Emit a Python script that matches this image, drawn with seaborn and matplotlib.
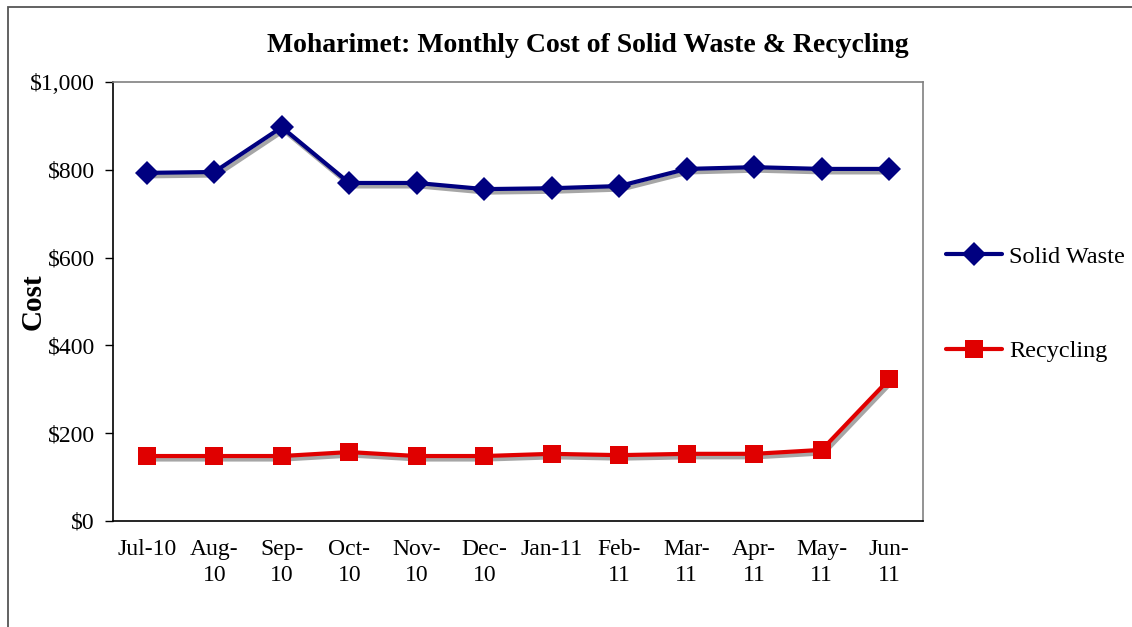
import pandas as pd
import matplotlib
matplotlib.use('Agg')
import matplotlib.pyplot as plt
import matplotlib.patheffects as pe
from matplotlib.lines import Line2D
from matplotlib.patches import Rectangle
from matplotlib.ticker import FuncFormatter, FixedLocator
import seaborn as sns

# Data
months = ['Jul-10', 'Aug-\n10', 'Sep-\n10', 'Oct-\n10', 'Nov-\n10', 'Dec-\n10',
          'Jan-11', 'Feb-\n11', 'Mar-\n11', 'Apr-\n11', 'May-\n11', 'Jun-\n11']
solid_waste = [793, 795, 897, 770, 770, 756, 758, 763, 802, 806, 802, 802]
recycling = [148, 148, 148, 157, 148, 148, 153, 150, 153, 153, 162, 323]

df = pd.DataFrame({
    'Month': list(range(len(months))) * 2,
    'Cost': solid_waste + recycling,
    'Series': ['Solid Waste'] * len(months) + ['Recycling'] * len(months),
})

sns.set_style('white')
plt.rcParams['font.family'] = ['Liberation Serif', 'DejaVu Serif']
plt.rcParams['text.color'] = 'black'
plt.rcParams['xtick.color'] = 'black'
plt.rcParams['ytick.color'] = 'black'

navy = '#000080'
red = '#E00000'

fig = plt.figure(figsize=(11.32, 6.27), dpi=100)
ax = fig.add_axes([113 / 1132, 1 - 521 / 627, (923 - 113) / 1132, (521 - 82) / 627])

sns.lineplot(data=df, x='Month', y='Cost', hue='Series', style='Series',
             palette={'Solid Waste': navy, 'Recycling': red},
             markers={'Solid Waste': 'D', 'Recycling': 's'},
             dashes=False, markersize=11, linewidth=3, markeredgewidth=0,
             legend=False, ax=ax)

shadow = [pe.SimpleLineShadow(offset=(1.5, -2.5), shadow_color='#909090', alpha=0.8),
          pe.Normal()]
for ln in ax.lines:
    ln.set_path_effects(shadow)
    ln.set_markersize(12 if ln.get_marker() == 'D' else 13)

ax.set_xlim(-0.5, len(months) - 0.5)
ax.set_ylim(0, 1000)
ax.set_yticks(range(0, 1001, 200))
ax.yaxis.set_major_formatter(FuncFormatter(lambda v, p: '${:,.0f}'.format(v)))
ax.set_xticks(range(len(months)))
ax.set_xticklabels(months)
ax.xaxis.set_minor_locator(FixedLocator([i - 0.5 for i in range(len(months) + 1)]))
ax.tick_params(axis='x', which='major', length=0, pad=13, labelsize=17)
ax.tick_params(axis='x', which='minor', length=6, width=1, color='black', direction='out')
ax.tick_params(axis='y', which='major', length=6, width=1, color='black', direction='out',
               pad=7, labelsize=17, left=True)
for lbl in ax.get_xticklabels():
    lbl.set_horizontalalignment('center')
    lbl.set_multialignment('center')
    lbl.set_linespacing(1.3)

ax.set_xlabel('')
ax.set_ylabel('')
fig.text(33 / 1132, 1 - 302 / 627, 'Cost', rotation=90, fontsize=21, fontweight='bold',
         ha='center', va='center')

for side in ['left', 'bottom']:
    ax.spines[side].set_color('black')
    ax.spines[side].set_linewidth(1.2)
for side in ['top', 'right']:
    ax.spines[side].set_color('#808080')
    ax.spines[side].set_linewidth(1.2)
    ax.spines[side].set_visible(True)

fig.text(588 / 1132, 1 - 46 / 627, 'Moharimet: Monthly Cost of Solid Waste & Recycling',
         fontsize=20, fontweight='bold', ha='center', va='center')

handles = [Line2D([], [], color=navy, lw=3, marker='D', markersize=12, markeredgewidth=0),
           Line2D([], [], color=red, lw=3, marker='s', markersize=13, markeredgewidth=0)]
fig.legend(handles, ['Solid Waste', 'Recycling'], loc='center left',
           bbox_to_anchor=(946 / 1132, 1 - 304 / 627), frameon=False, fontsize=17.5,
           labelspacing=3.0, handlelength=2.3, handletextpad=0.3, borderpad=0,
           borderaxespad=0)

fig.patches.append(Rectangle((8 / 1132, -0.1), 1.2, 1 - 7 / 627 + 0.1,
                             transform=fig.transFigure, fill=False,
                             edgecolor='#555555', linewidth=1.3))

fig.savefig('out.png', dpi=100)
